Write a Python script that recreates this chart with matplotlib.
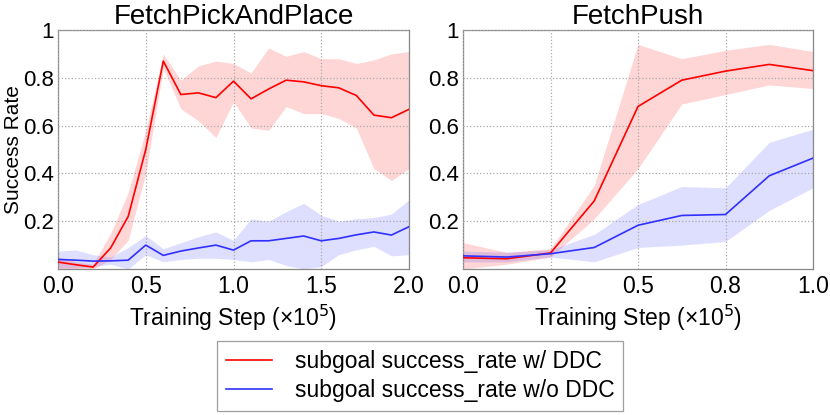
import matplotlib
matplotlib.use("Agg")
import matplotlib.pyplot as plt
import numpy as np

plt.rcParams['font.family'] = ['Liberation Sans', 'DejaVu Sans']

# ---- data ----
titles = ["FetchPickAndPlace", "FetchPush"]
legend_labels = ["subgoal success_rate w/ DDC", "subgoal success_rate w/o DDC"]

pp_x = [0.0, 0.1, 0.2, 0.3, 0.4, 0.5, 0.6, 0.7, 0.8, 0.9, 1.0,
        1.1, 1.2, 1.3, 1.4, 1.5, 1.6, 1.7, 1.8, 1.9, 2.0]
pp_red = [0.029, 0.018, 0.008, 0.088, 0.22, 0.50, 0.87, 0.73, 0.737, 0.717, 0.786,
          0.712, 0.753, 0.79, 0.783, 0.767, 0.758, 0.726, 0.644, 0.633, 0.668]
pp_red_hi = [0.05, 0.03, 0.02, 0.15, 0.32, 0.58, 0.90, 0.79, 0.85, 0.87, 0.86,
             0.82, 0.925, 0.89, 0.91, 0.88, 0.88, 0.86, 0.875, 0.90, 0.91]
pp_red_lo = [0.0, 0.0, 0.0, 0.04, 0.12, 0.40, 0.84, 0.67, 0.62, 0.55, 0.70,
             0.59, 0.58, 0.68, 0.65, 0.65, 0.63, 0.59, 0.42, 0.37, 0.42]
pp_blue = [0.04, 0.037, 0.033, 0.034, 0.037, 0.10, 0.057, 0.075, 0.088, 0.10, 0.079,
           0.118, 0.118, 0.128, 0.138, 0.118, 0.128, 0.143, 0.155, 0.142, 0.177]
pp_blue_hi = [0.075, 0.08, 0.06, 0.05, 0.09, 0.14, 0.085, 0.11, 0.135, 0.155, 0.12,
              0.21, 0.20, 0.24, 0.275, 0.225, 0.20, 0.21, 0.215, 0.23, 0.29]
pp_blue_lo = [0.005, 0.005, 0.01, 0.02, 0.0, 0.06, 0.03, 0.04, 0.045, 0.045, 0.04,
              0.03, 0.04, 0.015, 0.0, 0.01, 0.06, 0.08, 0.095, 0.055, 0.06]

pu_x = [0.0, 0.125, 0.25, 0.375, 0.5, 0.625, 0.75, 0.875, 1.0]
pu_red = [0.047, 0.043, 0.067, 0.285, 0.68, 0.79, 0.828, 0.856, 0.83]
pu_red_hi = [0.11, 0.07, 0.085, 0.35, 0.94, 0.88, 0.915, 0.94, 0.91]
pu_red_lo = [0.0, 0.02, 0.05, 0.21, 0.42, 0.69, 0.73, 0.77, 0.755]
pu_blue = [0.055, 0.05, 0.064, 0.09, 0.183, 0.224, 0.228, 0.39, 0.464]
pu_blue_hi = [0.075, 0.07, 0.08, 0.145, 0.27, 0.345, 0.34, 0.53, 0.585]
pu_blue_lo = [0.03, 0.03, 0.05, 0.03, 0.09, 0.10, 0.115, 0.245, 0.34]

y_ticks = [0.2, 0.4, 0.6, 0.8, 1.0]
y_ticklabels = ["0.2", "0.4", "0.6", "0.8", "1"]
pp_xticks = [0.0, 0.5, 1.0, 1.5, 2.0]
pp_xticklabels = ["0.0", "0.5", "1.0", "1.5", "2.0"]
pu_xticks = [0.0, 0.25, 0.5, 0.75, 1.0]
pu_xticklabels = ["0.0", "0.2", "0.5", "0.8", "1.0"]

fig = plt.figure(figsize=(8.3, 4.15), dpi=100)
ax1 = fig.add_axes([58/830, 1 - 269/415, 351/830, 239/415])
ax2 = fig.add_axes([463/830, 1 - 269/415, 350/830, 239/415])

panels = [
    (ax1, pp_x, pp_red, pp_red_lo, pp_red_hi, pp_blue, pp_blue_lo, pp_blue_hi,
     pp_xticks, pp_xticklabels, (0, 2.0)),
    (ax2, pu_x, pu_red, pu_red_lo, pu_red_hi, pu_blue, pu_blue_lo, pu_blue_hi,
     pu_xticks, pu_xticklabels, (0, 1.0)),
]

handles = []
for i, (ax, x, r, rlo, rhi, b, blo, bhi, xt, xtl, xl) in enumerate(panels):
    ax.fill_between(x, rlo, rhi, color='#ff0000', alpha=0.16, linewidth=0, zorder=1)
    ax.fill_between(x, blo, bhi, color='#0000ff', alpha=0.13, linewidth=0, zorder=1)
    lr, = ax.plot(x, r, color='#ff0000', lw=1.2, zorder=3)
    lb, = ax.plot(x, b, color='#3030ff', lw=1.2, zorder=3)
    if i == 0:
        handles = [lr, lb]
    ax.set_xlim(*xl)
    ax.set_ylim(0, 1)
    ax.set_xticks(xt)
    ax.set_xticklabels(xtl)
    ax.set_yticks(y_ticks)
    ax.set_yticklabels(y_ticklabels)
    ax.tick_params(axis='x', length=0, labelsize=16.5, pad=4, colors='black')
    ax.tick_params(axis='y', length=0, labelsize=16, pad=3, colors='black')
    ax.grid(True, color='#aaaaaa', linestyle=':', linewidth=0.9, zorder=2)
    ax.set_axisbelow(False)
    for s in ax.spines.values():
        s.set_color('#888888')
        s.set_linewidth(0.9)
    ax.set_title(titles[i], fontsize=20, pad=4)
    ax.set_xlabel("Training Step (×10$^5$)", fontsize=16.5, labelpad=4)

ax1.set_ylabel("Success Rate", fontsize=15)
ax1.yaxis.set_label_coords(-0.0997, 0.5)

leg = fig.legend(handles, legend_labels, loc='center', bbox_to_anchor=(420/830, 1 - 376/415),
                 fontsize=16.5, frameon=True, fancybox=False, handlelength=2.0,
                 handletextpad=1.0, borderpad=0.4, labelspacing=0.25)
leg.get_frame().set_edgecolor('#888888')
leg.get_frame().set_linewidth(0.9)

fig.savefig("out.png", dpi=100)
